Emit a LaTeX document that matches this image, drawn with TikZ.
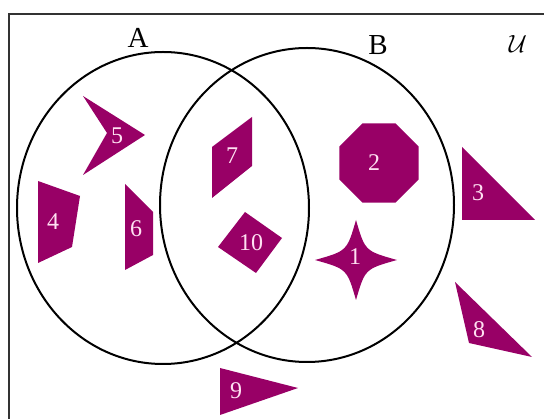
\documentclass[tikz,border=0pt]{standalone}
\usepackage{amsmath}
\usepackage{fontspec}
\newfontfamily\numfont{Liberation Serif}
\definecolor{shapefill}{RGB}{152,0,102}
\definecolor{labelcol}{RGB}{255,225,242}
\begin{document}
\begin{tikzpicture}[x=1pt,y=-1pt,
  shp/.style={fill=shapefill,draw=none},
  num/.style={text=labelcol,font=\numfont\fontsize{24}{24}\selectfont,inner sep=0pt},
  setlabel/.style={font=\numfont\fontsize{29}{29}\selectfont,inner sep=0pt},
  setline/.style={line width=2pt}]
\useasboundingbox (0,0) rectangle (544,419);
\begin{scope}
\clip (0,0) rectangle (544,419);
\draw[line width=2.8pt,black!80] (9,14) rectangle (570,440);
\end{scope}
% sets
\draw[setline] (163,208) ellipse [x radius=146,y radius=156];
\draw[setline] (307,205) ellipse [x radius=147,y radius=157];
\node[setlabel] (lA) at (138,38) {A};
\node[setlabel] (lB) at (378,45) {B};
\node[font=\fontsize{40}{40}\selectfont,inner sep=0pt] (lU) at (518,44) {$\mathcal{U}$};
% shape 5 chevron
\fill[shp] (145,135) -- (83,96) -- (107,133) -- (83,175) -- cycle;
\node[num] (n5) at (117,136) {5};
% shape 7 parallelogram
\fill[shp] (212,147) -- (252,117) -- (252,166) -- (212,198) -- cycle;
\node[num] (n7) at (232,156) {7};
% shape 4
\fill[shp] (38,181) -- (80,196) -- (72,247) -- (38,263) -- cycle;
\node[num] (n4) at (53,222) {4};
% shape 6
\fill[shp] (125,184) -- (153,212) -- (153,255) -- (125,270) -- cycle;
\node[num] (n6) at (136,229) {6};
% shape 10 diamond
\fill[shp] (245,212) -- (282,238) -- (256,273) -- (218,247) -- cycle;
\node[num] (n10) at (251,243) {10};
% shape 9 triangle
\fill[shp] (220,368) -- (298,388) -- (220,415) -- cycle;
\node[num] (n9) at (236,391) {9};
% shape 2 octagon
\fill[shp] (379,163) +(22.5:43) -- +(67.5:43) -- +(112.5:43) -- +(157.5:43) -- +(202.5:43) -- +(247.5:43) -- +(292.5:43) -- +(337.5:43) -- cycle;
\node[num] (n2) at (374,163) {2};
% shape 3 right triangle
\fill[shp] (462,147) -- (535,220) -- (462,220) -- cycle;
\node[num] (n3) at (478,193) {3};
% shape 1 star
\fill[shp] (356,220) .. controls (365,251) .. (397,260) .. controls (365,269) .. (356,300) .. controls (347,269) .. (315,260) .. controls (347,251) .. cycle;
\node[num] (n1) at (355,257) {1};
% shape 8 triangle
\fill[shp] (455,282) -- (532,357) -- (469,343) -- cycle;
\node[num] (n8) at (479,330) {8};
\end{tikzpicture}
\end{document}
